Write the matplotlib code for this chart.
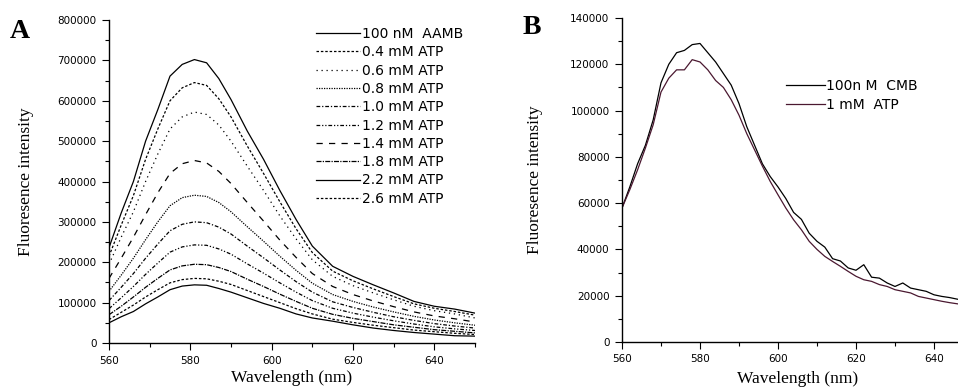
import matplotlib
matplotlib.use("Agg")
from matplotlib import pyplot as plt
from matplotlib.ticker import MultipleLocator, FixedLocator

# ---- panel A data (values in thousands) ----
wl_a = [560, 563, 566, 569, 572, 575, 578, 581, 584, 587, 590, 594,
        598, 602, 606, 610, 615, 620, 625, 630, 635, 640, 645, 650]

aamb = [236, 322, 400, 500, 578, 661, 690, 702, 694, 655, 603, 525,
        455, 378, 306, 240, 190, 165, 144, 124, 103, 91, 84, 74]
atp_04 = [215, 292, 365, 455, 530, 600, 632, 645, 638, 605, 560, 488,
          420, 350, 283, 224, 178, 154, 134, 115, 97, 86, 78, 69]
atp_06 = [195, 262, 325, 400, 468, 530, 560, 572, 566, 540, 500, 438,
          378, 315, 258, 206, 165, 142, 124, 107, 91, 80, 72, 62]
atp_08 = [128, 168, 210, 256, 300, 340, 360, 366, 363, 348, 325, 288,
          252, 215, 180, 148, 120, 103, 89, 77, 66, 57, 50, 44]
atp_10 = [105, 138, 172, 210, 245, 278, 294, 300, 298, 287, 270, 240,
          211, 181, 152, 126, 102, 88, 76, 65, 56, 48, 42, 37]
atp_12 = [85, 112, 140, 170, 198, 225, 238, 243, 242, 233, 220, 196,
          173, 149, 126, 105, 86, 74, 64, 55, 47, 40, 35, 31]
atp_14 = [160, 210, 262, 318, 372, 420, 444, 452, 446, 425, 395, 348,
          302, 255, 212, 172, 140, 120, 104, 90, 77, 67, 60, 52]
atp_18 = [70, 91, 114, 138, 160, 181, 191, 195, 194, 187, 177, 158,
          140, 121, 103, 86, 71, 61, 53, 45, 39, 33, 29, 25]
atp_22 = [50, 65, 78, 97, 114, 132, 141, 144, 143, 135, 126, 112,
          98, 86, 72, 62, 54, 45, 37, 31, 26, 22, 18, 17]
atp_26 = [58, 76, 94, 114, 132, 149, 157, 160, 159, 153, 145, 130,
          115, 100, 85, 72, 59, 51, 44, 38, 32, 28, 24, 21]

labels_a = ["100 nM  AAMB", "0.4 mM ATP", "0.6 mM ATP", "0.8 mM ATP",
            "1.0 mM ATP", "1.2 mM ATP", "1.4 mM ATP", "1.8 mM ATP",
            "2.2 mM ATP", "2.6 mM ATP"]
series_a = [aamb, atp_04, atp_06, atp_08, atp_10, atp_12, atp_14,
            atp_18, atp_22, atp_26]
styles_a = ["-", (0, (2, 1.5)), (0, (1, 3)), (0, (1, 1)),
            (0, (3, 1.5, 1, 1.5)), (0, (3, 1.5, 1, 1.5, 1, 1.5)),
            (0, (5, 5)), (0, (4, 1, 1, 1)), "-", (0, (2, 1.5))]

# ---- panel B data (values in thousands) ----
wl_b = [560, 562, 564, 566, 568, 570, 572, 574, 576, 578, 580, 582, 584,
        586, 588, 590, 592, 594, 596, 598, 600, 602, 604, 606, 608, 610,
        612, 614, 616, 618, 620, 622, 624, 626, 628, 630, 632, 634, 636,
        638, 640, 642, 644, 646, 648, 650]
cmb = [57.9, 67, 77, 85, 96, 112, 120, 125, 126, 128.5, 129, 125, 121,
       116, 111, 103, 93, 85, 77, 71.5, 67, 62, 56, 53, 47, 43.5,
       41, 36, 35, 32, 31, 33.4, 28, 27.6, 25.5, 24, 25.5, 23.3, 22.6,
       21.9, 20.4, 19.7, 19.2, 18.5, 18.0, 17.6]
atp_1mm = [57.9, 65.8, 74.4, 83.8, 93.9, 108, 114, 117.6, 117.6, 122, 121,
           117.6, 113, 110, 104.7, 98, 90, 83, 76, 69.4, 63.6, 57.9, 52.8,
           48.5, 43.5, 40, 37, 34.8, 32.7, 30.5, 28.4, 26.9, 26.2, 24.8,
           24, 22.6, 21.9, 21.2, 19.7, 19, 18.3, 17.6, 17.0, 16.5, 16.0, 15.6]

tick_family = "DejaVu Sans"
tick_size = 7.5
label_font = {"family": "Liberation Serif", "size": 12.5}
legend_prop = {"family": "DejaVu Sans", "size": 10}

fig = plt.figure(figsize=(9.58, 3.9), dpi=100)

# ---------------- panel A ----------------
ax1 = fig.add_axes([109 / 958, 47 / 390, 366 / 958, 323 / 390])
for vals, lab, ls in zip(series_a, labels_a, styles_a):
    ax1.plot(wl_a, [v * 1000 for v in vals], color="black", lw=0.9,
             linestyle=ls, label=lab)
ax1.set_xlim(560, 650)
ax1.set_ylim(0, 800000)
ax1.xaxis.set_major_locator(FixedLocator([560, 580, 600, 620, 640]))
ax1.xaxis.set_minor_locator(MultipleLocator(10))
ax1.yaxis.set_major_locator(MultipleLocator(100000))
ax1.yaxis.set_minor_locator(MultipleLocator(50000))
ax1.set_xlabel("Wavelength (nm)", fontdict=label_font)
ax1.set_ylabel("Fluoresence intensity", fontdict=label_font)
ax1.xaxis.set_label_coords(0.5, -0.085)
ax1.yaxis.set_label_coords(-0.205, 0.5)
ax1.legend(loc="upper left", bbox_to_anchor=(316 / 958, 1 - 27 / 390),
           bbox_transform=fig.transFigure, frameon=False, prop=legend_prop,
           handlelength=3.2, handletextpad=0.1, labelspacing=0.31,
           borderaxespad=0.0, borderpad=0.0)
ax1.text(10 / 958, 1 - 31 / 390, "A", transform=fig.transFigure, fontsize=20,
         fontweight="bold", family="Liberation Serif", va="center")

# ---------------- panel B ----------------
ax2 = fig.add_axes([622 / 958, 48 / 390, 351 / 958, 324 / 390])
ax2.plot(wl_b, [v * 1000 for v in cmb], color="black", lw=0.9,
         label="100n M  CMB")
ax2.plot(wl_b, [v * 1000 for v in atp_1mm], color="#4a1830", lw=0.9,
         label="1 mM  ATP")
ax2.set_xlim(560, 650)
ax2.set_ylim(0, 140000)
ax2.xaxis.set_major_locator(FixedLocator([560, 580, 600, 620, 640]))
ax2.xaxis.set_minor_locator(MultipleLocator(10))
ax2.yaxis.set_major_locator(MultipleLocator(20000))
ax2.yaxis.set_minor_locator(MultipleLocator(10000))
ax2.set_xlabel("Wavelength (nm)", fontdict=label_font)
ax2.set_ylabel("Fluoresence intensity", fontdict=label_font)
ax2.xaxis.set_label_coords(0.5, -0.09)
ax2.yaxis.set_label_coords(-0.225, 0.5)
ax2.legend(loc="upper left", bbox_to_anchor=(786 / 958, 1 - 79 / 390),
           bbox_transform=fig.transFigure, frameon=False, prop=legend_prop,
           handlelength=2.8, handletextpad=0.1, labelspacing=0.34,
           borderaxespad=0.0, borderpad=0.0)
ax2.text(523 / 958, 1 - 27 / 390, "B", transform=fig.transFigure, fontsize=20,
         fontweight="bold", family="Liberation Serif", va="center")

for ax in (ax1, ax2):
    ax.spines["top"].set_visible(False)
    ax.spines["right"].set_visible(False)
    ax.spines["left"].set_linewidth(1.0)
    ax.spines["bottom"].set_linewidth(1.0)
    ax.tick_params(which="major", direction="out", length=5, width=0.8,
                   pad=4)
    ax.tick_params(which="minor", direction="out", length=3, width=0.8)
    for t in ax.get_xticklabels() + ax.get_yticklabels():
        t.set_fontfamily(tick_family)
        t.set_fontsize(tick_size)
    ax.ticklabel_format(axis="y", style="plain")

fig.savefig("out.png", dpi=100)
